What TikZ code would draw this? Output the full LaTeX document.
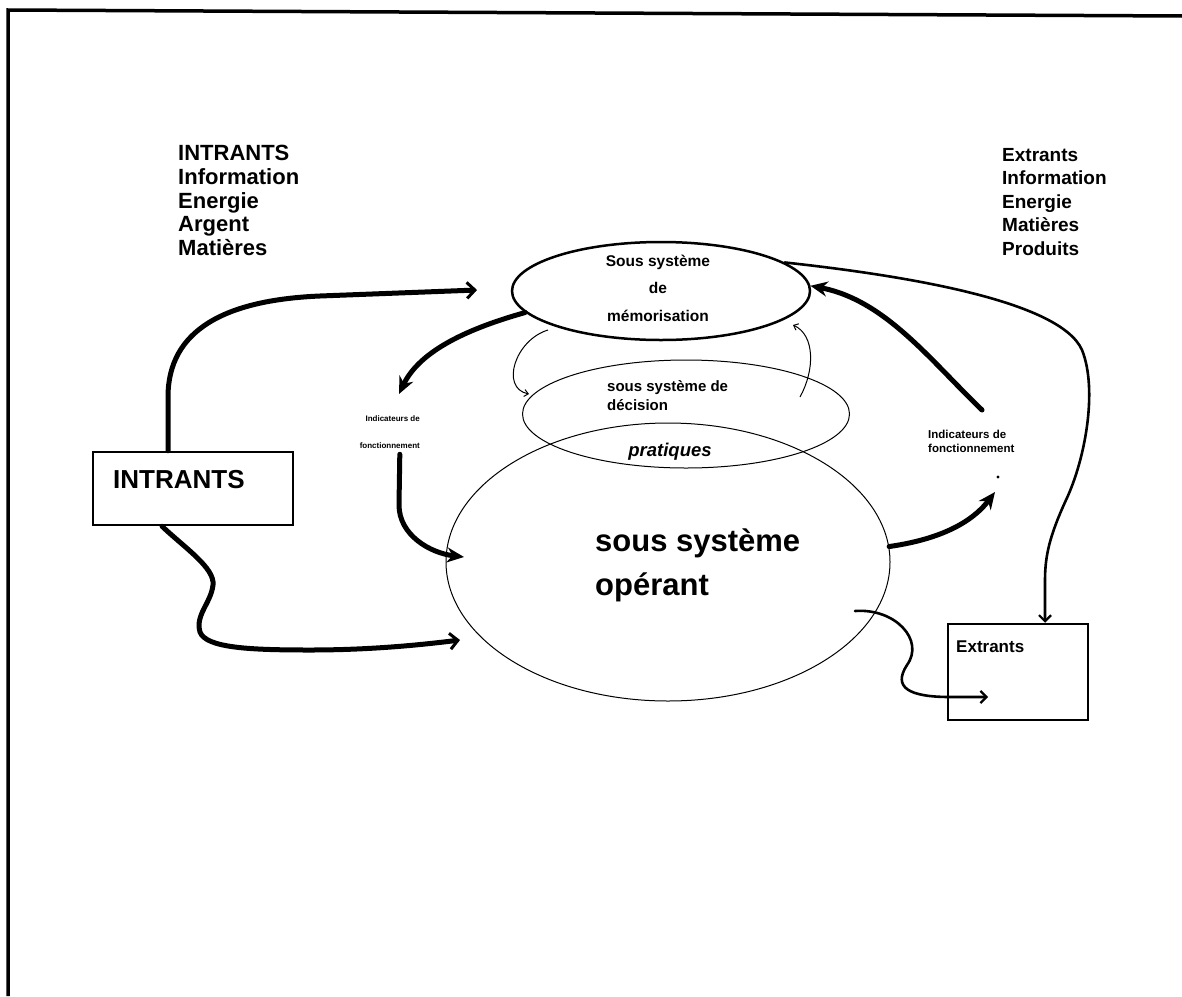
\documentclass[tikz,border=0pt]{standalone}
\usepackage{fontspec}
\setmainfont{Liberation Sans}
\usetikzlibrary{shapes.geometric,arrows.meta}
\tikzset{
  frameline/.style={line width=3.5pt},
  bx/.style={draw, rectangle, line width=2.5pt, inner sep=0pt},
  ell/.style={draw, ellipse, inner sep=0pt},
  lbl/.style={inner sep=0pt, font=\bfseries},
  thk/.style={line width=5pt, line cap=round},
  med/.style={line width=2.6pt, line cap=round},
  thn/.style={line width=1pt},
  bigtip/.style={-{Stealth[length=17pt,width=15pt]}},
  barbtip/.style={-{Straight Barb[length=8pt,width=16pt,line width=3pt]}},
  medbarb/.style={-{Straight Barb[length=6pt,width=12pt,line width=2.2pt]}},
  smalltip/.style={-{Straight Barb[length=4pt,width=7pt,line width=1pt]}}
}
\begin{document}
\begin{tikzpicture}[x=1pt,y=-1pt]
\useasboundingbox (0,0) rectangle (1182,996);
% frame
\draw[frameline] (1182,16) -- (8,10) -- (8,996);

% ellipses
\node[ell, line width=2.5pt, minimum width=298pt, minimum height=98pt] (mem) at (661,291) {};
\node[ell, line width=1pt, minimum width=327pt, minimum height=108pt] (dec) at (686,414) {};
\node[ell, line width=1pt, minimum width=444pt, minimum height=278pt] (ope) at (668,562) {};

% boxes
\node[bx, minimum width=200pt, minimum height=73pt] (intr) at (193,488.5) {};
\node[bx, minimum width=140pt, minimum height=96pt] (ext) at (1018,672) {};

% texts
\node[lbl, anchor=north west, align=left, font=\bfseries\fontsize{22}{23.75}\selectfont] (inlist) at (178,145)
  {INTRANTS\\Information\\Energie\\Argent\\Matières};
\node[lbl, anchor=north west, align=left, font=\bfseries\fontsize{19}{23.5}\selectfont] (outlist) at (1002,148)
  {Extrants\\Information\\Energie\\Matières\\Produits};
\node[lbl, align=center, font=\bfseries\fontsize{15.5}{27.5}\selectfont] (memtxt) at (658,288)
  {Sous système\\de\\mémorisation};
\node[lbl, anchor=north west, align=left, font=\bfseries\fontsize{15}{19.5}\selectfont] (dectxt) at (607,380)
  {sous système de\\décision};
\node[lbl, font=\bfseries\itshape\fontsize{18.5}{22}\selectfont] (prat) at (670,452) {pratiques};
\node[lbl, anchor=north west, align=left, font=\bfseries\fontsize{31}{44}\selectfont] (opetxt) at (595,529)
  {sous système\\opérant};
\node[lbl, anchor=north east, align=right, font=\bfseries\fontsize{8}{27}\selectfont] (indL) at (420,415)
  {Indicateurs de\\fonctionnement};
\node[lbl, anchor=north west, align=left, font=\bfseries\fontsize{11.5}{14}\selectfont] (indR) at (928,430)
  {Indicateurs de\\fonctionnement};
\node[lbl, anchor=west, font=\bfseries\fontsize{26}{30}\selectfont] (intrtxt) at (113,480) {INTRANTS};
\node[lbl, anchor=west, font=\bfseries\fontsize{17}{20}\selectfont] (exttxt) at (956,647) {Extrants};

% free ends
\coordinate (a1) at (477,290);
\coordinate (b1) at (399,394);
\coordinate (c1) at (464,557);
\coordinate (d1) at (460,640);
\coordinate (e1) at (995,492);
\coordinate (f0) at (982,410);
\coordinate (h0) at (855,611);
\coordinate (h1) at (988,697);
\coordinate (i0) at (548,330);
\coordinate (i1) at (529,394);
\coordinate (j0) at (800,397);
\coordinate (j1) at (793,325);

% connectors
\draw[thk, barbtip] ([xshift=-25pt]intr.north) -- (168,397)
  .. controls (168,330) and (225,300) .. (320,296) -- (a1);
\draw[thk, bigtip] (mem.189) .. controls (470,328) and (420,350) .. (b1);
\draw[thk, bigtip] ([xshift=10pt,yshift=-6pt]indL.south) -- (399,505)
  .. controls (399,535) and (430,553) .. (c1);
\draw[thk, barbtip] ([xshift=-31pt]intr.south) .. controls (185,548) and (215,568) .. (213,585)
  .. controls (211,603) and (195,615) .. (200,632)
  .. controls (206,648) and (250,650) .. (310,650)
  .. controls (370,650) and (420,645) .. (d1);
\draw[thk, bigtip] (ope.4) .. controls (935,540) and (970,525) .. (e1);
\draw[thk, bigtip] (f0) .. controls (930,360) and (885,300) .. (mem.2);
\draw[med, medbarb] (mem.13) .. controls (900,275) and (1060,300) .. (1082,350)
  .. controls (1098,390) and (1085,460) .. (1066,500)
  .. controls (1050,535) and (1045,555) .. (1045,580) -- ([xshift=27pt]ext.north);
\draw[med, medbarb] (h0) .. controls (895,608) and (925,640) .. (907,665)
  .. controls (892,688) and (910,697) .. (950,697) -- (h1);
\draw[thn, smalltip] (i0) .. controls (515,340) and (500,388) .. (i1);
\draw[thn, smalltip] (j0) .. controls (815,370) and (815,335) .. (j1);
\fill (998,477) circle (1.6pt);
\end{tikzpicture}
\end{document}
